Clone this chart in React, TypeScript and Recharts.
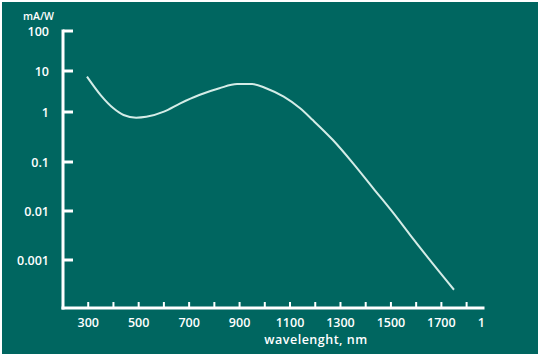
import { LineChart, Line, XAxis, YAxis, Label } from 'recharts'

// Responsivity vs wavelength
const wavelengths = [295, 350, 400, 440, 490, 530, 600, 665, 740, 820, 890, 950, 1005, 1075, 1140, 1190, 1270, 1350, 1430, 1510, 1575, 1665, 1750]
const responsivity = [7.3, 2.55, 1.23, 0.87, 0.77, 0.8, 1.02, 1.63, 2.6, 3.8, 4.8, 4.8, 3.8, 2.36, 1.23, 0.69, 0.275, 0.094, 0.029, 0.009, 0.0033, 0.00085, 0.00024]

const xTicks = [300, 400, 500, 600, 700, 800, 900, 1000, 1100, 1200, 1300, 1400, 1500, 1600, 1700, 1800, 1900]
const yTicks = [0.001, 0.01, 0.1, 1, 10, 100]

// the source axis has uneven decades (upper two are shorter), so use a piecewise log scale
const yDecades = [0.0001, 0.001, 0.01, 0.1, 1, 10]
const yDecadeWeights = [48, 49, 49, 50, 41, 40]

const TEAL = '#006660'
const CURVE = '#d4ece7'
const FONT = '"Open Sans", "DejaVu Sans", sans-serif'

const data = wavelengths.map((w, i) => ({ w, r: responsivity[i] }))

function unevenLogScale(domain: number[] = [0.0001, 100], range: number[] = [0, 1]): any {
    const total = yDecadeWeights.reduce((a, b) => a + b, 0)
    const scale: any = (v: number) => {
        const lg = Math.log10(v)
        let acc = 0
        for (let i = 0; i < yDecades.length; i++) {
            const d0 = Math.log10(yDecades[i])
            if (lg <= d0 + 1 || i === yDecades.length - 1) {
                acc += (lg - d0) * yDecadeWeights[i]
                break
            }
            acc += yDecadeWeights[i]
        }
        return range[0] + (acc / total) * (range[1] - range[0])
    }
    scale.domain = (d?: number[]) => {
        if (!d) return domain
        domain = d
        return scale
    }
    scale.range = (r?: number[]) => {
        if (!r) return range
        range = r
        return scale
    }
    scale.copy = () => unevenLogScale(domain.slice(), range.slice())
    scale.ticks = () => yTicks
    return scale
}

const yScale = unevenLogScale()

function YTick({ x, y, payload }: any) {
    return (
        <g>
            <line x1={x} y1={y} x2={x + 10} y2={y} stroke="#fff" strokeWidth={3} />
            <text x={x - 14} y={y} textAnchor="end" dominantBaseline="central" fill="#fff"
                fontSize={12.5} fontWeight={600} fontFamily={FONT}>
                {String(payload.value)}
            </text>
        </g>
    )
}

function XTick({ x, y, payload }: any) {
    const v = payload.value
    if (v > 1850) {
        // last label is cut off in the source, only its first digit shows
        return (
            <text x={x - 14} y={y + 14} textAnchor="start" dominantBaseline="central" fill="#fff"
                fontSize={12.5} fontWeight={600} fontFamily={FONT}>1</text>
        )
    }
    const labelled = (v - 300) % 200 === 0
    return (
        <g>
            <line x1={x} y1={y} x2={x} y2={y - 6} stroke="#fff" strokeWidth={2} />
            {labelled && (
                <text x={x} y={y + 14} textAnchor="middle" dominantBaseline="central" fill="#fff"
                    fontSize={12.5} fontWeight={600} fontFamily={FONT}>
                    {v}
                </text>
            )}
        </g>
    )
}

export default function App() {
    return (
        <div style={{ position: 'relative', width: 541, height: 357, background: '#fff' }}>
            <style>{'body{margin:0}'}</style>
            <div style={{ position: 'absolute', left: 2, top: 2, width: 536, height: 352, background: TEAL }} />
            <div style={{ position: 'absolute', left: 0, top: 0 }}>
                <LineChart width={541} height={357} data={data}
                    margin={{ top: 31, right: 58, bottom: 0, left: 0 }}>
                    <XAxis dataKey="w" type="number" domain={[200, 1865]} allowDataOverflow
                        ticks={xTicks} interval={0} height={49}
                        axisLine={{ stroke: '#fff', strokeWidth: 3, strokeLinecap: 'square' }}
                        tickLine={false} tickSize={0} tickMargin={0} tick={<XTick />}>
                        <Label content={({ viewBox }: any) => (
                            <text x={viewBox.x + viewBox.width / 2 + 43} y={viewBox.y + 31}
                                textAnchor="middle" dominantBaseline="central" fill="#fff"
                                fontSize={12.5} fontWeight={600} fontFamily={FONT} letterSpacing={0.5}>
                                wavelenght, nm
                            </text>
                        )} />
                    </XAxis>
                    <YAxis type="number" scale={yScale} domain={[0.0001, 100]} allowDataOverflow
                        ticks={yTicks} interval={0} width={63}
                        axisLine={{ stroke: '#fff', strokeWidth: 3, strokeLinecap: 'square' }}
                        tickLine={false} tickSize={0} tickMargin={0} tick={<YTick />}>
                        <Label content={({ viewBox }: any) => (
                            <text x={viewBox.x + viewBox.width - 9} y={viewBox.y - 15}
                                textAnchor="end" dominantBaseline="central" fill="#fff"
                                fontSize={10.5} fontWeight={600} fontFamily={FONT}>
                                mA/W
                            </text>
                        )} />
                    </YAxis>
                    <Line type="monotone" dataKey="r" stroke={CURVE} strokeWidth={2}
                        dot={false} isAnimationActive={false} />
                </LineChart>
            </div>
        </div>
    )
}
